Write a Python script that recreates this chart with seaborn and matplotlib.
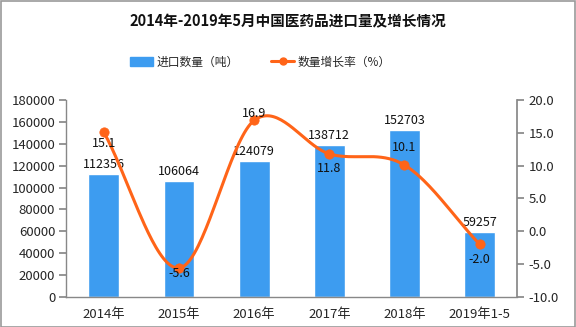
import numpy as np
import pandas as pd
import matplotlib
matplotlib.use("Agg")
import matplotlib.pyplot as plt
import seaborn as sns
from matplotlib.patches import Rectangle
from matplotlib.lines import Line2D

categories = ["2014年", "2015年", "2016年", "2017年", "2018年", "2019年1-5"]
import_volume = [112356, 106064, 124079, 138712, 152703, 59257]
growth_rate = [15.1, -5.6, 16.9, 11.8, 10.1, -2.0]
left_ticks = list(range(0, 180001, 20000))
right_ticks = [-10.0, -5.0, 0.0, 5.0, 10.0, 15.0, 20.0]

sns.set_theme(style="white")
plt.rcParams["font.family"] = ["Noto Sans CJK SC", "DejaVu Sans"]
plt.rcParams["axes.unicode_minus"] = False

bar_color = "#3D9CF0"
line_color = "#FF6418"
axis_gray = "#888888"

fig = plt.figure(figsize=(5.76, 3.27), dpi=100)
fig.patch.set_facecolor("white")
ax = fig.add_axes([0.115, 0.092, 0.783, 0.602])

df = pd.DataFrame({"cat": categories, "vol": import_volume, "rate": growth_rate})
sns.barplot(data=df, x="cat", y="vol", color=bar_color, saturation=1,
            width=0.41, ax=ax, zorder=2)

ax.set_ylim(0, 180000)
ax.set_yticks(left_ticks)
ax.set_yticklabels([str(v) for v in left_ticks], fontsize=9.5)
ax.set_xlim(-0.5, len(categories) - 0.5)
ax.set_xlabel("")
ax.set_ylabel("")
ax.set_xticks(range(len(categories)))
ax.set_xticklabels(categories, fontsize=9.5)
ax.tick_params(axis="x", length=0, pad=8)
ax.set_xticks(np.arange(-0.5, len(categories), 1), minor=True)
ax.tick_params(axis="x", which="minor", length=5, color=axis_gray, direction="out")
ax.tick_params(axis="y", length=5, color=axis_gray, direction="out", pad=3)
for side in ["top", "right"]:
    ax.spines[side].set_visible(False)
for side in ["left", "bottom"]:
    ax.spines[side].set_color(axis_gray)
    ax.spines[side].set_linewidth(1.0)

for i, v in enumerate(import_volume):
    ax.text(i, v + 2500, str(v), ha="center", va="bottom", fontsize=9, color="#111111")

ax2 = ax.twinx()
ax2.set_ylim(-10, 20)
ax2.set_yticks(right_ticks)
ax2.set_yticklabels([f"{v:.1f}" for v in right_ticks], fontsize=9.5)
ax2.tick_params(axis="y", length=5, color=axis_gray, direction="out", pad=3)
for side in ["top", "left", "bottom"]:
    ax2.spines[side].set_visible(False)
ax2.spines["right"].set_color(axis_gray)
ax2.grid(False)

# smooth curve through the growth points (Catmull-Rom segments)
xs = np.arange(len(growth_rate), dtype=float)
ys = np.array(growth_rate, dtype=float)
px = np.concatenate([[2 * xs[0] - xs[1]], xs, [2 * xs[-1] - xs[-2]]])
py = np.concatenate([[2 * ys[0] - ys[1]], ys, [2 * ys[-1] - ys[-2]]])
cx, cy = [], []
t = np.linspace(0, 1, 40)
for k in range(1, len(px) - 2):
    p0, p1, p2, p3 = (np.array([px[j], py[j]]) for j in range(k - 1, k + 3))
    seg = 0.5 * ((2 * p1)[:, None] + (-p0 + p2)[:, None] * t
                 + (2 * p0 - 5 * p1 + 4 * p2 - p3)[:, None] * t ** 2
                 + (-p0 + 3 * p1 - 3 * p2 + p3)[:, None] * t ** 3)
    cx.extend(seg[0]); cy.extend(seg[1])
ax2.plot(cx, cy, color=line_color, lw=2.2, zorder=3, solid_capstyle="round")
sns.scatterplot(x=xs, y=ys, color=line_color, s=45, edgecolor=line_color,
                ax=ax2, zorder=4, legend=False)

# vertical placement of each rate label relative to its point (axis units)
label_shift = [-1.7, -0.9, 1.1, -2.3, 2.7, -2.3]
for i, (v, d) in enumerate(zip(growth_rate, label_shift)):
    ax2.text(i, v + d, f"{v:.1f}", ha="center", va="center",
             fontsize=9, color="#111111", zorder=5)

fig.text(0.5, 0.935, "2014年-2019年5月中国医药品进口量及增长情况",
         ha="center", va="center", fontsize=10.5, fontweight="bold", color="#111111")

handles = [Rectangle((0, 0), 1, 1, color=bar_color),
           Line2D([0], [0], color=line_color, lw=2.2, marker="o", markersize=5)]
fig.legend(handles, ["进口数量（吨）", "数量增长率（%）"], loc="center",
           bbox_to_anchor=(0.452, 0.81), ncol=2, frameon=False, fontsize=8.5,
           handlelength=1.9, columnspacing=2.8, handletextpad=0.3)

fig.add_artist(Rectangle((0.001, 0.001), 0.997, 0.997, transform=fig.transFigure,
                         fill=False, edgecolor="#999999", lw=1.2))

fig.savefig("out.png", dpi=100, facecolor="white")
